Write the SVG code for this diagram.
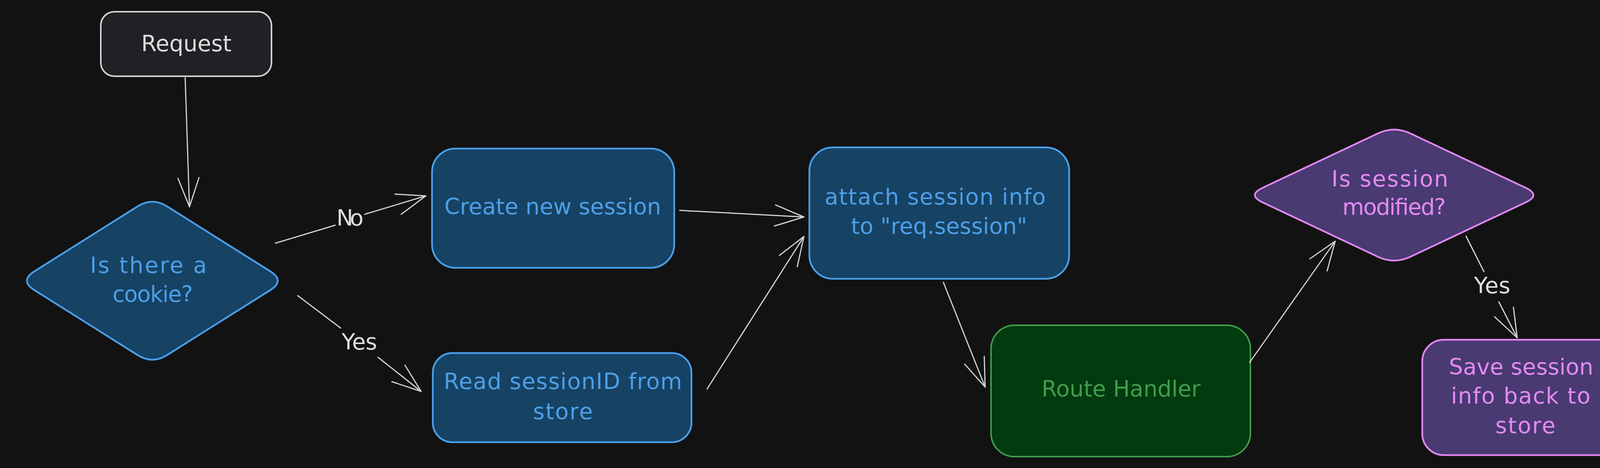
<svg xmlns="http://www.w3.org/2000/svg" width="4981" height="1197" viewBox="0 0 4981 1197">
<style>
text{font-family:"DejaVu Sans","Liberation Sans",sans-serif;font-size:57px;text-anchor:middle}
.req rect{fill:#202125;stroke:#d2d2d2;stroke-width:4}
.req text{fill:#dcdcdc}
.blue rect,.blue path{fill:#164264;stroke:#4a9fe8;stroke-width:4.5}
.blue text{fill:#4d9fe6}
.green rect{fill:#033a0f;stroke:#3e9c4a;stroke-width:4}
.green text{fill:#3f9c48}
.purple rect,.purple path{fill:#493a72;stroke:#e086ef;stroke-width:4.5}
.purple text{fill:#e38af2}
.conn path{fill:none;stroke:#d3d3d3;stroke-width:3;stroke-linecap:round}
.lbl{fill:#dedede}
</style>
<defs>
<marker id="ah" markerUnits="userSpaceOnUse" viewBox="-80 -32 86 64" refX="0" refY="0" markerWidth="86" markerHeight="64" orient="auto" overflow="visible">
<path d="M-74,-27 L0,0 L-74,27" fill="none" stroke="#d3d3d3" stroke-width="3" stroke-linecap="round" stroke-linejoin="round"/>
</marker>
</defs>
<rect x="0" y="0" width="4981" height="1197" fill="#121212"/>

<g id="request" class="req">
<rect x="258" y="30" width="437" height="165" rx="35"/>
<text x="477" y="131" textLength="231">Request</text>
</g>

<g id="is-cookie" class="blue">
<path d="M88,694 L352,528 Q390,504 428,528 L692,694 Q730,718 692,742 L428,908 Q390,932 352,908 L88,742 Q50,718 88,694 Z"/>
<text x="380" y="698" textLength="299">Is there a</text>
<text x="391" y="772" textLength="206">cookie?</text>
</g>

<g id="create-session" class="blue">
<rect x="1106" y="380" width="620" height="305" rx="60"/>
<text x="1415" y="548" textLength="555">Create new session</text>
</g>

<g id="read-session" class="blue">
<rect x="1108" y="903" width="662" height="228" rx="50"/>
<text x="1441" y="995" textLength="610">Read sessionID from</text>
<text x="1441" y="1072" textLength="153">store</text>
</g>

<g id="attach-session" class="blue">
<rect x="2072" y="377" width="665" height="336" rx="60"/>
<text x="2394" y="523" textLength="566">attach session info</text>
<text x="2404" y="598" textLength="451">to "req.session"</text>
</g>

<g id="route-handler" class="green">
<rect x="2537" y="832" width="664" height="336" rx="60"/>
<text x="2870" y="1014" textLength="407">Route Handler</text>
</g>

<g id="is-modified" class="purple">
<path d="M3233,480 L3528,341 Q3569,322 3610,341 L3905,480 Q3946,499 3905,518 L3610,657 Q3569,676 3528,657 L3233,518 Q3192,499 3233,480 Z"/>
<text x="3558" y="477" textLength="299">Is session</text>
<text x="3569" y="549" textLength="265">modified?</text>
</g>

<g id="save-session" class="purple">
<rect x="3641" y="869" width="530" height="295" rx="55"/>
<text x="3894" y="958" textLength="370">Save session</text>
<text x="3893" y="1032" textLength="357">info back to</text>
<text x="3905" y="1108" textLength="154">store</text>
</g>

<g id="send-cookie" class="purple">
<rect x="4395" y="867" width="556" height="216" rx="45"/>
<text x="4662" y="955" textLength="427">send cookie to</text>
<text x="4674" y="1028" textLength="222">browser</text>
</g>

<g id="connectors" class="conn">
<path d="M474,199 L485,529" marker-end="url(#ah)"/>
<path d="M705,622 L858,576 M934,548 L1090,501" marker-end="url(#ah)"/>
<path d="M762,756 L872,839 M968,914 L1078,1001" marker-end="url(#ah)"/>
<path d="M1740,538 L2058,555" marker-end="url(#ah)"/>
<path d="M1810,995 L2058,605" marker-end="url(#ah)"/>
<path d="M2415,722 L2522,990" marker-end="url(#ah)"/>
<path d="M3199,927 L3418,617" marker-end="url(#ah)"/>
<path d="M3753,604 L3799,695 M3837,772 L3884,864" marker-end="url(#ah)"/>
<path d="M4175,987 L4393,989" marker-end="url(#ah)"/>
<text class="lbl" x="896" y="577" textLength="69">No</text>
<text class="lbl" x="920" y="894" textLength="91">Yes</text>
<text class="lbl" x="3820" y="750" textLength="93">Yes</text>
</g>
</svg>
